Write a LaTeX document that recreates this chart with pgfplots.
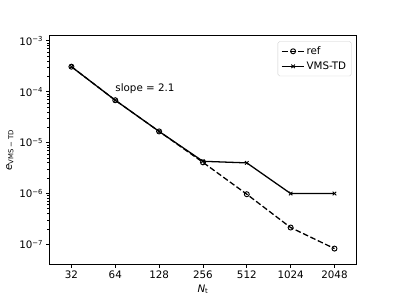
\documentclass[border=0pt]{standalone}
\usepackage{pgfplots}
\pgfplotsset{compat=1.18}
\usepackage{fontspec}
\setmainfont{DejaVu Sans}
\newcommand\pw[1]{10\textsuperscript{−#1}}
\begin{document}
\begin{tikzpicture}
\useasboundingbox (0,0) rectangle (460.8pt,345.6pt);
\begin{axis}[
  at={(57.6pt,38.0pt)}, anchor=south west,
  scale only axis, width=357.1pt, height=266.1pt,
  xmode=log, ymode=log, log basis x=2,
  xmin=22.63, xmax=2896, ymin=4.07e-8, ymax=1.26e-3,
  xtick={32,64,128,256,512,1024,2048},
  xticklabels={32,64,128,256,512,1024,2048},
  ytick={1e-7,1e-6,1e-5,1e-4,1e-3},
  yticklabels={\pw{7},\pw{6},\pw{5},\pw{4},\pw{3}},
  minor tick num=0, minor xtick={}, minor ytick={},
  tick align=outside, tick pos=left,
  major tick length=4pt,
  every tick/.style={black, line width=0.9pt},
  axis line style={line width=0.9pt},
  tick label style={font=\fontsize{12}{14}\selectfont},
  xlabel={\textit{N}\textsubscript{t}},
  ylabel={\textit{e}\textsubscript{VMS − TD}},
  label style={font=\fontsize{12}{14}\selectfont},
  legend style={at={(0.984,0.975)}, anchor=north east, draw=black!20, rounded corners=2pt,
    fill=white, fill opacity=0.8, text opacity=1, font=\fontsize{12}{14}\selectfont,
    row sep=3pt, inner sep=4pt, /tikz/every even column/.append style={column sep=4pt}},
  legend cell align=left,
  legend image code/.code={\draw[#1] (0pt,0pt) -- (13pt,0pt) -- (26pt,0pt); \path[#1, mark repeat=2, mark phase=2] plot coordinates {(0pt,0pt) (13pt,0pt) (26pt,0pt)};},
]
\addplot[black, line width=1.5pt, dash pattern=on 6.5pt off 3pt, mark=o, mark size=2.9pt, mark options={solid, line width=1.1pt}]
  coordinates {(32,3.1e-4) (64,6.8e-5) (128,1.66e-5) (256,4.1e-6) (512,9.7e-7) (1024,2.15e-7) (2048,8.3e-8)};
\addlegendentry{ref}
\addplot[black, line width=1.5pt, mark=x, mark size=2.9pt, mark options={solid, line width=1.1pt}]
  coordinates {(32,3.1e-4) (64,6.8e-5) (128,1.66e-5) (256,4.3e-6) (512,4.0e-6) (1024,1.0e-6) (2048,1.0e-6)};
\addlegendentry{VMS-TD}
\node[anchor=base west, font=\fontsize{12}{14}\selectfont, inner sep=0pt] at (axis cs:64,1e-4) {slope = 2.1};
\end{axis}
\end{tikzpicture}
\end{document}
